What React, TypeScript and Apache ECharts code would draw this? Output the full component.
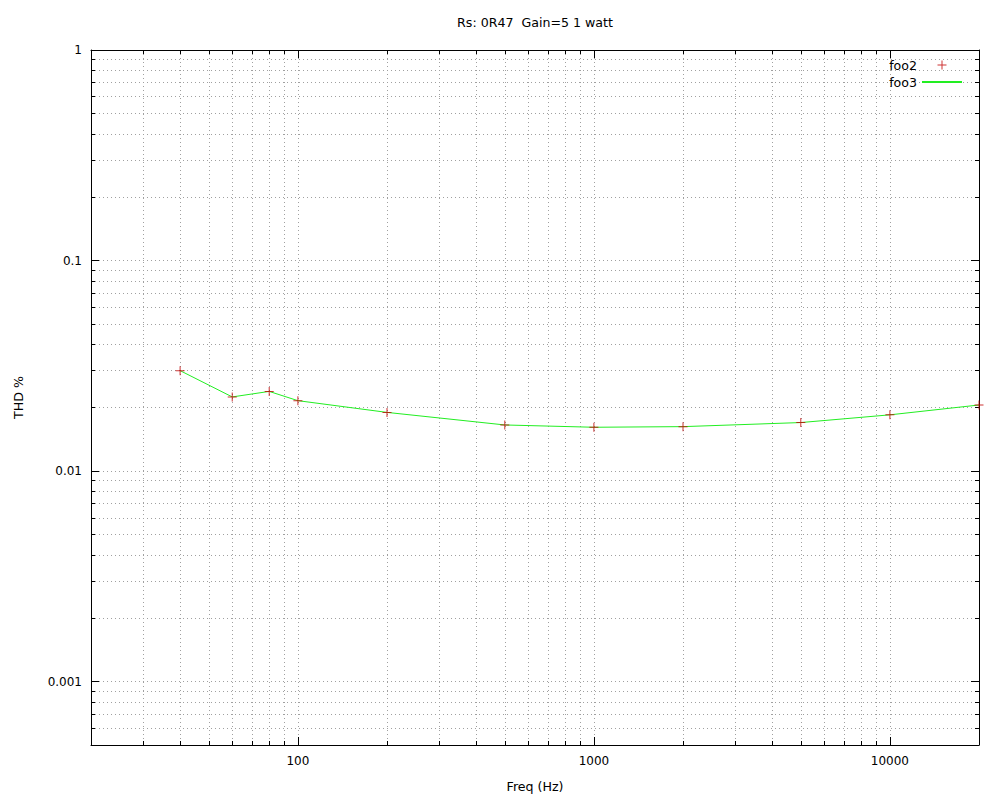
import React, { useEffect, useRef } from 'react';
import * as echarts from 'echarts';

const titleText = 'Rs: 0R47\u00a0 Gain=5 1 watt';
const seriesNames = ['foo2', 'foo3'];
const freqs = [40, 60, 80, 100, 200, 500, 1000, 2000, 5000, 10000, 20000];
const thd = [0.03, 0.0225, 0.0239, 0.0216, 0.019, 0.01656, 0.01615, 0.01626, 0.017, 0.0185, 0.0206];

const xMin = 20;
const xMax = 20000;
const yMin = 0.0005;
const yMax = 1;

const xMajorTicks = [100, 1000, 10000];
const xMajorLabels = ['100', '1000', '10000'];
const xMinorTicks = [30, 40, 50, 60, 70, 80, 90, 200, 300, 400, 500, 600, 700, 800, 900, 2000, 3000, 4000, 5000, 6000, 7000, 8000, 9000];
const yMajorTicks = [0.001, 0.01, 0.1, 1];
const yMajorLabels = ['0.001', '0.01', '0.1', '1'];
const yMinorTicks = [0.0006, 0.0007, 0.0008, 0.0009, 0.002, 0.003, 0.004, 0.005, 0.006, 0.007, 0.008, 0.009, 0.02, 0.03, 0.04, 0.05, 0.06, 0.07, 0.08, 0.09, 0.2, 0.3, 0.4, 0.5, 0.6, 0.7, 0.8, 0.9];

const FONT = 'DejaVu Sans';
const TEXT_SIZE = 12.6;
const gridLine = { color: '#a0a0a0', width: 1, type: [1, 3] as number[] };

function fmt(ticks: number[], labels: string[]) {
  return (v: number) => {
    const i = ticks.findIndex((t) => Math.abs(Math.log10(t) - Math.log10(v)) < 1e-6);
    return i >= 0 ? labels[i] : '';
  };
}

export default function App() {
  const ref = useRef<HTMLDivElement>(null);
  useEffect(() => {
    if (!ref.current) return;
    const chart = echarts.init(ref.current, undefined, { renderer: 'svg' });
    const gridPos = { left: 91, right: 13, top: 50, bottom: 54, outerBoundsMode: 'none' };
    const baseAxis = (grid: number, pos: string, min: number, max: number, ticks: number[], len: number, showLine: boolean) => ({
      type: 'log',
      logBase: 10,
      gridIndex: grid,
      position: pos,
      min,
      max,
      axisLine: { show: showLine, lineStyle: { color: '#000', width: 1 } },
      axisTick: { show: true, inside: true, length: len, customValues: ticks, lineStyle: { color: '#000', width: 1 } },
      axisLabel: { show: false },
      splitLine: { show: false },
      minorTick: { show: false },
      minorSplitLine: { show: false },
    });

    const xBottom: any = baseAxis(0, 'bottom', xMin, xMax, xMajorTicks, 8, true);
    xBottom.axisLabel = {
      show: true,
      customValues: xMajorTicks,
      formatter: fmt(xMajorTicks, xMajorLabels),
      color: '#000',
      fontFamily: FONT,
      fontSize: 12,
      margin: 10,
    };
    xBottom.splitLine = { show: true, lineStyle: gridLine };
    xBottom.name = 'Freq (Hz)';
    xBottom.nameLocation = 'middle';
    xBottom.nameGap = 35;
    xBottom.nameTextStyle = { color: '#000', fontFamily: FONT, fontSize: TEXT_SIZE };

    const xBottomMinor: any = baseAxis(1, 'bottom', xMin, xMax, xMinorTicks, 4, false);
    xBottomMinor.splitLine = { show: true, lineStyle: gridLine };
    const xTop: any = baseAxis(0, 'top', xMin, xMax, xMajorTicks, 8, true);
    const xTopMinor: any = baseAxis(1, 'top', xMin, xMax, xMinorTicks, 4, false);

    const yLeft: any = baseAxis(0, 'left', yMin, yMax, yMajorTicks, 8, true);
    yLeft.axisLabel = {
      show: true,
      customValues: yMajorTicks,
      formatter: fmt(yMajorTicks, yMajorLabels),
      color: '#000',
      fontFamily: FONT,
      fontSize: 12,
      margin: 9,
    };
    yLeft.splitLine = { show: true, lineStyle: gridLine };
    yLeft.name = 'THD %';
    yLeft.nameLocation = 'middle';
    yLeft.nameRotate = 90;
    yLeft.nameGap = 66;
    yLeft.nameTextStyle = { color: '#000', fontFamily: FONT, fontSize: TEXT_SIZE };

    const yLeftMinor: any = baseAxis(1, 'left', yMin, yMax, yMinorTicks, 4, false);
    yLeftMinor.splitLine = { show: true, lineStyle: gridLine };
    const yRight: any = baseAxis(0, 'right', yMin, yMax, yMajorTicks, 8, true);
    const yRightMinor: any = baseAxis(1, 'right', yMin, yMax, yMinorTicks, 4, false);

    const pts = freqs.map((f, i) => [f, thd[i]]);

    chart.setOption({
      animation: false,
      backgroundColor: '#fff',
      title: {
        text: titleText,
        left: 535,
        top: 16,
        padding: 0,
        textAlign: 'center',
        textStyle: { color: '#000', fontFamily: FONT, fontSize: TEXT_SIZE, fontWeight: 'normal' },
      },
      legend: {
        data: [
          { name: seriesNames[0] },
          { name: seriesNames[1], itemStyle: { color: 'rgba(0,0,0,0)', borderWidth: 0, opacity: 0 } },
        ],
        orient: 'vertical',
        right: 29,
        top: 58,
        padding: 0,
        align: 'right',
        itemWidth: 40,
        itemHeight: 9,
        itemGap: 3,
        textStyle: { color: '#000', fontFamily: FONT, fontSize: TEXT_SIZE, lineHeight: 14 },
      },
      grid: [{ ...gridPos }, { ...gridPos }],
      xAxis: [xBottom, xTop, xBottomMinor, xTopMinor],
      yAxis: [yLeft, yRight, yLeftMinor, yRightMinor],
      series: [
        {
          name: seriesNames[0],
          type: 'scatter',
          xAxisIndex: 0,
          yAxisIndex: 0,
          data: pts,
          symbol: 'path://M4,0h1v4h4v1h-4v4h-1v-4h-4v-1h4z',
          symbolSize: 9,
          symbolKeepAspect: true,
          itemStyle: { color: '#c00000' },
          z: 3,
        },
        {
          name: seriesNames[1],
          type: 'line',
          xAxisIndex: 0,
          yAxisIndex: 0,
          data: pts,
          symbol: 'none',
          lineStyle: { color: '#22ee22', width: 1 },
          itemStyle: { color: 'rgba(0,0,0,0)' },
          z: 2,
        },
      ],
    });
    return () => chart.dispose();
  }, []);
  return <div ref={ref} style={{ position: 'absolute', left: 0, top: 0, width: 992, height: 799 }} />;
}
